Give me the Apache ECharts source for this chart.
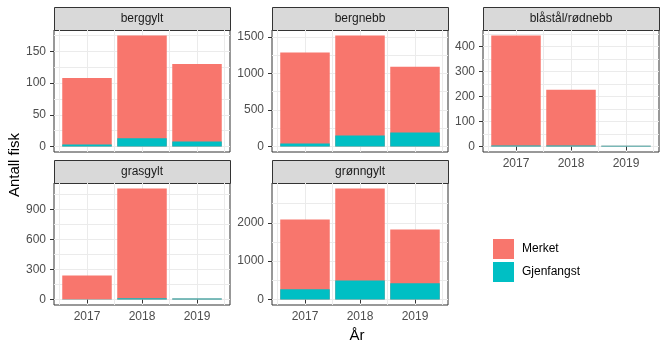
<!DOCTYPE html>
<html>
<head>
<meta charset="utf-8">
<script src="https://cdn.jsdelivr.net/npm/echarts@6/dist/echarts.min.js"></script>
<style>
  html, body { margin: 0; padding: 0; background: #fff; }
  #chart { width: 666px; height: 350px; }
</style>
</head>
<body>
<div id="chart"></div>
<script>
// data
const years = [2017, 2018, 2019];
const species = ['berggylt', 'bergnebb', 'blåstål/rødnebb', 'grasgylt', 'grønngylt'];
const merket = [
  [105, 162, 122],
  [1245, 1370, 903],
  [440, 223, 0],
  [239, 1098, 0],
  [1818, 2400, 1401]
];
const gjenfangst = [
  [3, 13, 8],
  [41, 150, 191],
  [4, 4, 3],
  [1, 12, 10],
  [269, 496, 425]
];
const yTicks = [
  [0, 50, 100, 150],
  [0, 500, 1000, 1500],
  [0, 100, 200, 300, 400],
  [0, 300, 600, 900],
  [0, 1000, 2000]
];

const FONT = '"Liberation Sans", Arial, sans-serif';
const RED = '#F8766D';
const CYAN = '#00BFC4';

// panel boxes (facet_wrap, 3 columns)
const panels = [
  { left: 54, top: 30, xlab: false },
  { left: 272, top: 30, xlab: false },
  { left: 483, top: 30, xlab: true },
  { left: 54, top: 183, xlab: true },
  { left: 272, top: 183, xlab: true }
];
const W = 176, H = 122, STRIP = 23;

const chart = echarts.init(document.getElementById('chart'), null, { renderer: 'canvas' });

const grid = [], xAxis = [], yAxis = [], series = [], graphic = [];

panels.forEach(function (p, i) {
  grid.push({
    left: p.left, top: p.top, width: W, height: H,
    show: true, borderColor: '#333333', borderWidth: 1, backgroundColor: '#fff'
  });

  xAxis.push({
    type: 'value', gridIndex: i,
    min: 2016.4, max: 2019.6,
    minInterval: 1, maxInterval: 1,
    axisLine: { show: false },
    axisTick: { show: p.xlab, length: 4, customValues: years, lineStyle: { color: '#333333' } },
    axisLabel: {
      show: p.xlab, customValues: years, margin: 6,
      color: '#4D4D4D', fontSize: 12, fontFamily: FONT,
      formatter: function (v) { return Number.isInteger(v) ? String(v) : ''; }
    },
    splitLine: { show: true, lineStyle: { color: '#EBEBEB', width: 1 } },
    minorTick: { show: false, splitNumber: 2 },
    minorSplitLine: { show: true, lineStyle: { color: '#EBEBEB', width: 1 } }
  });

  // stacked height = merket on top of gjenfangst
  const totals = merket[i].map(function (m, k) { return m + gjenfangst[i][k]; });
  const top = Math.max.apply(null, totals);
  const step = yTicks[i][1] - yTicks[i][0];
  yAxis.push({
    type: 'value', gridIndex: i,
    min: -0.05 * top, max: 1.05 * top,
    minInterval: step, maxInterval: step,
    axisLine: { show: false },
    axisTick: { show: true, length: 4, customValues: yTicks[i], lineStyle: { color: '#333333' } },
    axisLabel: {
      customValues: yTicks[i], margin: 8,
      color: '#4D4D4D', fontSize: 12, fontFamily: FONT,
      formatter: function (v) { return yTicks[i].indexOf(v) >= 0 ? String(v) : ''; }
    },
    splitLine: { show: true, lineStyle: { color: '#EBEBEB', width: 1 } },
    minorTick: { show: false, splitNumber: 2 },
    minorSplitLine: { show: true, lineStyle: { color: '#EBEBEB', width: 1 } }
  });

  series.push({
    name: 'Merket', type: 'bar',
    xAxisIndex: i, yAxisIndex: i, barWidth: 49.5, barGap: '-100%',
    itemStyle: { color: RED },
    data: years.map(function (y, k) { return [y, totals[k]]; })
  });
  series.push({
    name: 'Gjenfangst', type: 'bar',
    xAxisIndex: i, yAxisIndex: i, barWidth: 49.5, barGap: '-100%',
    itemStyle: { color: CYAN },
    data: years.map(function (y, k) { return [y, gjenfangst[i][k]]; })
  });

  // facet strip
  graphic.push({
    type: 'rect', silent: true,
    shape: { x: p.left + 0.5, y: p.top - STRIP + 0.5, width: W, height: STRIP },
    style: { fill: '#D9D9D9', stroke: '#333333', lineWidth: 1 }
  });
  graphic.push({
    type: 'text', silent: true,
    x: p.left + W / 2, y: p.top - STRIP / 2,
    style: {
      text: species[i], fill: '#1A1A1A', font: '12px ' + FONT,
      align: 'center', verticalAlign: 'middle'
    }
  });
});

// axis titles
graphic.push({
  type: 'text', silent: true, x: 15, y: 165, rotation: Math.PI / 2,
  style: { text: 'Antall fisk', fill: '#000', font: '15px ' + FONT, align: 'center', verticalAlign: 'middle' }
});
graphic.push({
  type: 'text', silent: true, x: 357, y: 336,
  style: { text: 'År', fill: '#000', font: '15px ' + FONT, align: 'center', verticalAlign: 'middle' }
});

chart.setOption({
  animation: false,
  backgroundColor: '#fff',
  grid: grid,
  xAxis: xAxis,
  yAxis: yAxis,
  series: series,
  legend: {
    data: ['Merket', 'Gjenfangst'],
    orient: 'vertical', left: 493, top: 239, padding: 0,
    itemWidth: 21, itemHeight: 20, itemGap: 3,
    icon: 'rect',
    textStyle: { color: '#000', fontSize: 12, fontFamily: FONT, padding: [0, 0, 0, 3] }
  },
  graphic: graphic
});
</script>
</body>
</html>
